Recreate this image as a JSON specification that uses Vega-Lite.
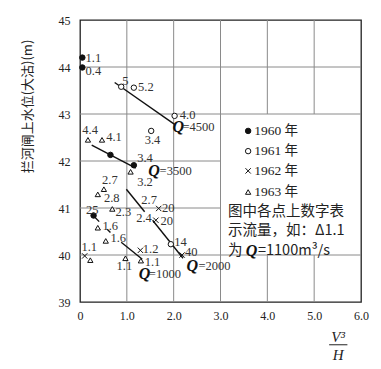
{
  "$schema": "https://vega.github.io/schema/vega-lite/v6.json",
  "autosize": "none",
  "padding": {"left": 80, "top": 20, "right": 20, "bottom": 67},
  "width": 281,
  "height": 282,
  "config": {"view": {"stroke": "#222", "strokeWidth": 1.3}},
  "datasets": {
    "vgrid": [
      {"x": 1, "y": 39, "y2": 45}, {"x": 2, "y": 39, "y2": 45}, {"x": 3, "y": 39, "y2": 45},
      {"x": 4, "y": 39, "y2": 40}, {"x": 4, "y": 43, "y2": 45},
      {"x": 5, "y": 39, "y2": 40}, {"x": 5, "y": 43, "y2": 45}
    ],
    "hgrid": [
      {"y": 40, "x": 0, "x2": 6}, {"y": 41, "x": 0, "x2": 3}, {"y": 42, "x": 0, "x2": 3},
      {"y": 43, "x": 0, "x2": 6}, {"y": 44, "x": 0, "x2": 6}
    ],
    "fracline": [{"y": 38.09, "x": 5.32, "x2": 5.71}],
    "lines": [
      {"seg": "Q4500", "x": 0.74, "y": 43.67}, {"seg": "Q4500", "x": 2.02, "y": 42.78},
      {"seg": "Q3500", "x": 0.25, "y": 42.34}, {"seg": "Q3500", "x": 1.19, "y": 41.85},
      {"seg": "Q2000a", "x": 0.99, "y": 41.4}, {"seg": "Q2000a", "x": 1.38, "y": 40.92},
      {"seg": "Q2000b", "x": 1.55, "y": 40.74}, {"seg": "Q2000b", "x": 2.2, "y": 39.93},
      {"seg": "Q1000a", "x": 0.27, "y": 40.85}, {"seg": "Q1000a", "x": 0.41, "y": 40.71},
      {"seg": "Q1000b", "x": 0.58, "y": 40.55}, {"seg": "Q1000b", "x": 0.65, "y": 40.48},
      {"seg": "Q1000c", "x": 0.88, "y": 40.27}, {"seg": "Q1000c", "x": 1.33, "y": 39.91}
    ],
    "points": [
      {"year": "1960", "x": 0.05, "y": 44.2}, {"year": "1960", "x": 0.05, "y": 43.99},
      {"year": "1960", "x": 0.65, "y": 42.13}, {"year": "1960", "x": 1.15, "y": 41.91},
      {"year": "1960", "x": 0.29, "y": 40.84},
      {"year": "1961", "x": 0.88, "y": 43.58}, {"year": "1961", "x": 1.15, "y": 43.56},
      {"year": "1961", "x": 2.02, "y": 42.96}, {"year": "1961", "x": 1.52, "y": 42.64},
      {"year": "1961", "x": 1.94, "y": 40.23},
      {"year": "1962", "x": 1.68, "y": 40.99}, {"year": "1962", "x": 1.62, "y": 40.74},
      {"year": "1962", "x": 2.18, "y": 40.0}, {"year": "1962", "x": 1.29, "y": 40.1},
      {"year": "1962", "x": 0.1, "y": 39.98},
      {"year": "1963", "x": 0.17, "y": 42.45}, {"year": "1963", "x": 0.47, "y": 42.45},
      {"year": "1963", "x": 1.08, "y": 41.77}, {"year": "1963", "x": 0.51, "y": 41.4},
      {"year": "1963", "x": 0.38, "y": 41.29}, {"year": "1963", "x": 0.69, "y": 40.98},
      {"year": "1963", "x": 0.38, "y": 40.58}, {"year": "1963", "x": 0.55, "y": 40.3},
      {"year": "1963", "x": 0.97, "y": 39.93}, {"year": "1963", "x": 1.3, "y": 39.88},
      {"year": "1963", "x": 0.22, "y": 39.89}
    ],
    "labels": [
      {"t": "1.1", "x": 0.12, "y": 44.2}, {"t": "0.4", "x": 0.12, "y": 43.92},
      {"t": "5", "x": 0.9, "y": 43.71}, {"t": "5.2", "x": 1.24, "y": 43.58},
      {"t": "4.0", "x": 2.13, "y": 42.98}, {"t": "3.4", "x": 1.38, "y": 42.45},
      {"t": "4.4", "x": 0.05, "y": 42.66}, {"t": "4.1", "x": 0.56, "y": 42.52},
      {"t": "3.4", "x": 1.22, "y": 42.06}, {"t": "3.2", "x": 1.22, "y": 41.56},
      {"t": "2.7", "x": 0.47, "y": 41.6}, {"t": "2.8", "x": 0.51, "y": 41.21},
      {"t": "2.3", "x": 0.76, "y": 40.92}, {"t": "2.7", "x": 1.31, "y": 41.16},
      {"t": "20", "x": 1.75, "y": 40.99}, {"t": "2.4", "x": 1.2, "y": 40.78},
      {"t": "20", "x": 1.72, "y": 40.72}, {"t": "25", "x": 0.13, "y": 40.96},
      {"t": "1.6", "x": 0.48, "y": 40.62}, {"t": "1.6", "x": 0.65, "y": 40.36},
      {"t": "14", "x": 2.01, "y": 40.28}, {"t": "40", "x": 2.24, "y": 40.06},
      {"t": "1.2", "x": 1.34, "y": 40.12}, {"t": "1.1", "x": 0.03, "y": 40.16},
      {"t": "1.1", "x": 0.78, "y": 39.77}, {"t": "1.1", "x": 1.38, "y": 39.85}
    ],
    "qmark": [
      {"t": "Q", "x": 2.1, "y": 42.73}, {"t": "Q", "x": 1.58, "y": 41.79},
      {"t": "Q", "x": 1.38, "y": 39.6}, {"t": "Q", "x": 2.4, "y": 39.76},
      {"t": "Q", "x": 3.66, "y": 40.09}
    ],
    "qval": [
      {"t": "=4500", "x": 2.19, "y": 42.73}, {"t": "=3500", "x": 1.7, "y": 41.79},
      {"t": "=1000", "x": 1.47, "y": 39.6}, {"t": "=2000", "x": 2.53, "y": 39.76}
    ],
    "legpts": [
      {"year": "1960", "x": 3.59, "y": 42.64}, {"year": "1961", "x": 3.59, "y": 42.21},
      {"year": "1962", "x": 3.59, "y": 41.79}, {"year": "1963", "x": 3.59, "y": 41.34}
    ],
    "legtxt": [
      {"t": "1960 年", "x": 3.72, "y": 42.64}, {"t": "1961 年", "x": 3.72, "y": 42.21},
      {"t": "1962 年", "x": 3.72, "y": 41.79}, {"t": "1963 年", "x": 3.72, "y": 41.34}
    ],
    "note": [
      {"t": "图中各点上数字表", "x": 3.16, "y": 40.91},
      {"t": "示流量，如：Δ1.1", "x": 3.16, "y": 40.51},
      {"t": "为", "x": 3.16, "y": 40.09},
      {"t": "=1100m³/s", "x": 3.8, "y": 40.09}
    ],
    "frac": [
      {"t": "V³", "x": 5.51, "y": 38.25}, {"t": "H", "x": 5.51, "y": 37.87}
    ]
  },
  "encoding": {
    "x": {"field": "x", "type": "quantitative",
      "scale": {"domain": [0, 6], "nice": false, "zero": false, "padding": 0},
      "axis": {"values": [0, 1, 2, 3, 4, 5, 6], "labelExpr": "datum.value == 0 ? '0' : format(datum.value, '.1f')",
        "grid": false, "ticks": false, "domain": false, "labelPadding": 8, "labelFlush": false, "title": null,
        "labelFont": "Liberation Serif", "labelFontSize": 12, "labelColor": "#222"}},
    "y": {"field": "y", "type": "quantitative",
      "scale": {"domain": [39, 45], "nice": false, "zero": false, "padding": 0},
      "axis": {"values": [39, 40, 41, 42, 43, 44, 45], "grid": false, "ticks": false, "domain": false,
        "labelPadding": 10, "labelFont": "Liberation Serif", "labelFontSize": 12, "labelColor": "#222",
        "title": "拦河闸上水位(大沽)(m)", "titleFont": "Noto Sans CJK SC", "titleFontSize": 13,
        "titleFontWeight": "normal", "titleColor": "#222", "titleX": -53, "titleY": 86, "titleAngle": -90,
        "titleAlign": "center", "titleBaseline": "middle"}}
  },
  "layer": [
    {"data": {"name": "vgrid"}, "mark": {"type": "rule", "stroke": "#8a8a8a", "strokeWidth": 1},
      "encoding": {"y2": {"field": "y2"}}},
    {"data": {"name": "hgrid"}, "mark": {"type": "rule", "stroke": "#8a8a8a", "strokeWidth": 1},
      "encoding": {"x2": {"field": "x2"}}},
    {"data": {"name": "fracline"}, "mark": {"type": "rule", "stroke": "#222", "strokeWidth": 1},
      "encoding": {"x2": {"field": "x2"}}},
    {"data": {"name": "lines"}, "mark": {"type": "line", "color": "#111", "strokeWidth": 1.4},
      "encoding": {"detail": {"field": "seg"}}},
    {"data": {"name": "points"}, "mark": {"type": "point", "stroke": "#111", "strokeWidth": 1, "opacity": 1},
      "encoding": {
        "shape": {"field": "year", "type": "nominal", "legend": null,
          "scale": {"domain": ["1960", "1961", "1962", "1963"], "range": ["circle", "circle", "M-1,-1L1,1M-1,1L1,-1", "triangle-up"]}},
        "fill": {"field": "year", "type": "nominal", "legend": null,
          "scale": {"domain": ["1960", "1961", "1962", "1963"], "range": ["#111", "white", "transparent", "white"]}},
        "size": {"field": "year", "type": "nominal", "legend": null,
          "scale": {"domain": ["1960", "1961", "1962", "1963"], "range": [30, 28, 22, 60]}}}},
    {"data": {"name": "labels"}, "mark": {"type": "text", "align": "left", "baseline": "middle", "font": "Liberation Serif", "fontSize": 12.5, "color": "#333"},
      "encoding": {"text": {"field": "t"}}},
    {"data": {"name": "qmark"}, "mark": {"type": "text", "align": "center", "baseline": "middle", "font": "Liberation Serif", "fontSize": 16, "fontStyle": "italic", "fontWeight": "bold", "color": "#111"},
      "encoding": {"text": {"field": "t"}}},
    {"data": {"name": "qval"}, "mark": {"type": "text", "align": "left", "baseline": "middle", "font": "Liberation Serif", "fontSize": 12.5, "color": "#333"},
      "encoding": {"text": {"field": "t"}}},
    {"data": {"name": "legpts"}, "mark": {"type": "point", "stroke": "#111", "strokeWidth": 1, "opacity": 1},
      "encoding": {
        "shape": {"field": "year", "type": "nominal", "legend": null},
        "fill": {"field": "year", "type": "nominal", "legend": null},
        "size": {"field": "year", "type": "nominal", "legend": null}}},
    {"data": {"name": "legtxt"}, "mark": {"type": "text", "align": "left", "baseline": "middle", "font": "Liberation Serif, Noto Sans CJK SC", "fontSize": 13.5, "color": "#222"},
      "encoding": {"text": {"field": "t"}}},
    {"data": {"name": "note"}, "mark": {"type": "text", "align": "left", "baseline": "middle", "font": "Noto Sans CJK SC", "fontSize": 14.5, "color": "#222"},
      "encoding": {"text": {"field": "t"}}},
    {"data": {"name": "frac"}, "mark": {"type": "text", "align": "center", "baseline": "middle", "font": "Liberation Serif", "fontSize": 15, "fontStyle": "italic", "color": "#222"},
      "encoding": {"text": {"field": "t"}}}
  ]
}
